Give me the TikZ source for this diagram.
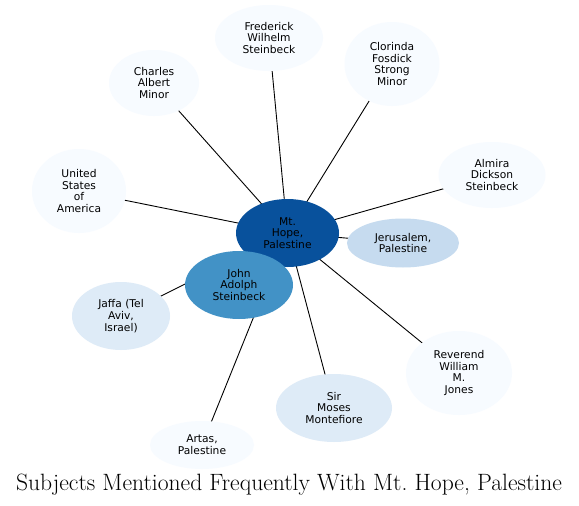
\documentclass[tikz,border=0pt]{standalone}
\usepackage{fontspec}
\newfontfamily\dejavu{DejaVu Sans}
\usetikzlibrary{shapes.geometric}
\pgfdeclarelayer{bg}
\pgfsetlayers{bg,main}
\definecolor{c0}{HTML}{08519C}
\definecolor{c1}{HTML}{4292C6}
\definecolor{c2}{HTML}{C6DBEF}
\definecolor{c3}{HTML}{DEEBF7}
\definecolor{c4}{HTML}{F7FBFF}
\tikzset{
  ent/.style={ellipse, inner sep=0pt, align=center, text=black,
    font=\dejavu\fontsize{10.7}{11.8}\selectfont},
  edge/.style={draw=black, line width=0.9pt}
}
\begin{document}
\begin{tikzpicture}[x=1pt,y=-1pt]
\useasboundingbox (0,0) rectangle (579,506);
\node[ent, fill=c0, minimum width=103, minimum height=68] (hope) at (287.5,233) {Mt.\\Hope,\\Palestine};
\node[ent, fill=c1, minimum width=108, minimum height=68] (john) at (239,285) {John\\Adolph\\Steinbeck};
\node[ent, fill=c2, minimum width=112, minimum height=49] (jer) at (403,243) {Jerusalem,\\Palestine};
\node[ent, fill=c4, minimum width=107, minimum height=66] (almira) at (492,175) {Almira\\Dickson\\Steinbeck};
\node[ent, fill=c4, minimum width=95, minimum height=84] (clor) at (392,64) {Clorinda\\Fosdick\\Strong\\Minor};
\node[ent, fill=c4, minimum width=108, minimum height=66] (fred) at (269,38) {Frederick\\Wilhelm\\Steinbeck};
\node[ent, fill=c4, minimum width=90, minimum height=66] (charles) at (154,83) {Charles\\Albert\\Minor};
\node[ent, fill=c4, minimum width=94, minimum height=84] (usa) at (79,191) {United\\States\\of\\America};
\node[ent, fill=c3, minimum width=98, minimum height=68] (jaffa) at (121,316) {Jaffa (Tel\\Aviv,\\Israel)};
\node[ent, fill=c4, minimum width=104, minimum height=48] (artas) at (202,445) {Artas,\\Palestine};
\node[ent, fill=c3, minimum width=116, minimum height=68] (moses) at (334,408) {Sir\\Moses\\Montefiore};
\node[ent, fill=c4, minimum width=106, minimum height=84] (rev) at (459,373) {Reverend\\William\\M.\\Jones};
\begin{pgfonlayer}{bg}
\fill[white] (0,0) rectangle (579,506);
\foreach \n in {jer,almira,clor,fred,charles,usa,jaffa,artas,moses,rev,john}
  \draw[edge] (hope.center) -- (\n.center);
\end{pgfonlayer}
\node[font=\fontsize{23.6}{27}\selectfont, anchor=base] (title) at (289,490) {Subjects Mentioned Frequently With Mt.\ Hope, Palestine};
\end{tikzpicture}
\end{document}
